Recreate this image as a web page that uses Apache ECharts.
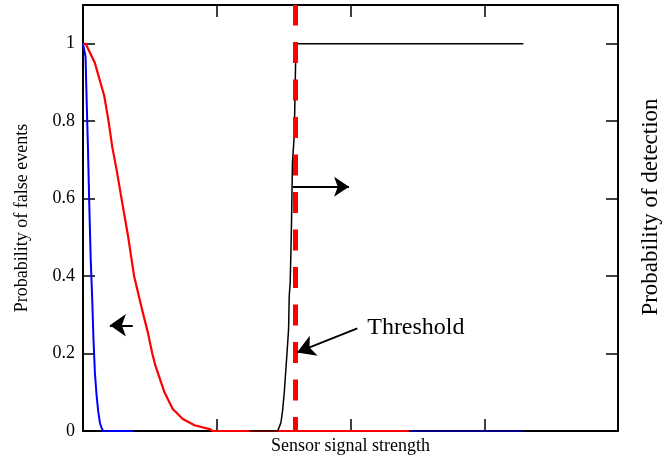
<!DOCTYPE html>
<html>
<head>
<meta charset="utf-8">
<script src="https://cdn.jsdelivr.net/npm/echarts@6/dist/echarts.min.js"></script>
<style>html,body{margin:0;padding:0;background:#fff;}#c{width:670px;height:460px;}</style>
</head>
<body>
<div id="c"></div>
<script>
// ---- data ----
const yTickValues = [0, 0.2, 0.4, 0.6, 0.8, 1];
const xTickValues = [0, 1, 2, 3, 4];

const blueX = [0, 0.01, 0.019, 0.026, 0.037, 0.048, 0.057, 0.069, 0.078, 0.089, 0.102, 0.114, 0.127, 0.139, 0.151, 0.375];
const blueY = [1, 1, 0.967, 0.87, 0.73, 0.57, 0.45, 0.34, 0.24, 0.15, 0.09, 0.05, 0.02, 0.008, 0, 0];
const blueTailX = [2.436, 3.29];
const blueTailY = [0, 0];

const redX = [0, 0.02, 0.089, 0.159, 0.191, 0.218, 0.251, 0.288, 0.337, 0.382, 0.437, 0.485, 0.518, 0.542, 0.609, 0.671, 0.746, 0.834, 0.946, 0.97, 2.436];
const redY = [1, 1, 0.95, 0.865, 0.8, 0.735, 0.675, 0.6, 0.503, 0.4, 0.32, 0.254, 0.2, 0.168, 0.1, 0.057, 0.031, 0.015, 0.005, 0, 0];

const blackX = [1.244, 1.455, 1.467, 1.48, 1.492, 1.505, 1.517, 1.529, 1.537, 1.542, 1.549, 1.555, 1.559, 1.566, 1.579, 1.584, 1.592, 3.292];
const blackY = [0, 0, 0.01, 0.022, 0.052, 0.1, 0.16, 0.22, 0.263, 0.349, 0.383, 0.469, 0.54, 0.692, 0.761, 0.843, 1, 1];

const threshold = 1.587;

// annotation arrows: [startX, startY, tipX, tipY]
const leftArrow = [0.372, 0.273, 0.201, 0.273];
const rightArrow = [1.57, 0.631, 1.989, 0.631];
const thresholdArrow = [2.051, 0.265, 1.6, 0.203];
const thresholdLabelPos = [2.125, 0.266];
const thresholdLabel = 'Threshold';

const xTitle = 'Sensor signal strength';
const yTitleLeft = 'Probability of false events';
const yTitleRight = 'Probability of detection';

// ---- chart ----
const FONT = '"Liberation Serif", "Times New Roman", serif';
const pairs = (xs, ys) => xs.map((x, i) => [x, ys[i]]);

const axisLineStyle = () => ({ show: true, onZero: false, lineStyle: { color: '#000', width: 2 } });
const tickStyle = () => ({ show: true, inside: true, length: 12, lineStyle: { color: '#000', width: 1.5 } });

function arrowLine(a, size) {
  return [{ coord: [a[0], a[1]], symbol: 'none' }, { coord: [a[2], a[3]], symbol: 'arrow', symbolSize: size }];
}

const chart = echarts.init(document.getElementById('c'), null, { renderer: 'canvas' });
chart.setOption({
  animation: false,
  backgroundColor: '#fff',
  grid: { left: 83, right: 50, top: 5, bottom: 28, containLabel: false },
  xAxis: [
    {
      type: 'value', position: 'bottom', min: xTickValues[0], max: xTickValues[xTickValues.length - 1], interval: 1,
      axisLine: axisLineStyle(), axisTick: tickStyle(),
      axisLabel: { show: false }, splitLine: { show: false },
      name: xTitle, nameLocation: 'middle', nameGap: 6,
      nameTextStyle: { fontFamily: FONT, fontSize: 18, color: '#000', verticalAlign: 'top' }
    },
    {
      type: 'value', position: 'top', min: xTickValues[0], max: xTickValues[xTickValues.length - 1], interval: 1,
      axisLine: axisLineStyle(), axisTick: tickStyle(),
      axisLabel: { show: false }, splitLine: { show: false }
    }
  ],
  yAxis: [
    {
      type: 'value', position: 'left', min: 0, max: 1.1, interval: 0.2,
      axisLine: axisLineStyle(), axisTick: tickStyle(), splitLine: { show: false },
      axisLabel: {
        show: true, margin: 8, fontFamily: FONT, fontSize: 18, color: '#000', showMaxLabel: false,
        formatter: v => (yTickValues.some(t => Math.abs(t - v) < 1e-9) ? String(Math.round(v * 10) / 10) : '')
      },
      name: yTitleLeft, nameLocation: 'middle', nameGap: 52,
      nameTextStyle: { fontFamily: FONT, fontSize: 18, color: '#000' }
    },
    {
      type: 'value', position: 'right', min: 0, max: 1.1, interval: 0.2,
      axisLine: axisLineStyle(), axisTick: tickStyle(), splitLine: { show: false },
      axisLabel: { show: false },
      name: yTitleRight, nameLocation: 'middle', nameGap: 21,
      nameTextStyle: { fontFamily: FONT, fontSize: 23, color: '#000', padding: [0, 0, 0, 22] }
    }
  ],
  series: [
    {
      type: 'line', data: pairs(blueX, blueY), showSymbol: false, symbol: 'none', silent: true,
      lineStyle: { color: '#0000ff', width: 2 }, z: 3
    },
    {
      type: 'line', data: pairs(blueTailX, blueTailY), showSymbol: false, symbol: 'none', silent: true,
      lineStyle: { color: '#000080', width: 2 }, z: 3
    },
    {
      type: 'line', data: pairs(redX, redY), showSymbol: false, symbol: 'none', silent: true,
      lineStyle: { color: '#ff0000', width: 2.2 }, z: 4
    },
    {
      type: 'line', data: pairs(blackX, blackY), showSymbol: false, symbol: 'none', silent: true,
      lineStyle: { color: '#000', width: 1.5 }, z: 4
    },
    {
      type: 'line', data: [], silent: true, z: 5,
      markLine: {
        silent: true, animation: false, symbol: 'none', label: { show: false },
        lineStyle: { color: '#ff0000', width: 5, type: [21, 16.5], dashOffset: 7, cap: 'butt' },
        emphasis: { disabled: true },
        data: [{ xAxis: threshold }]
      }
    },
    {
      type: 'line', data: [], silent: true, z: 6,
      markLine: {
        silent: true, animation: false, label: { show: false },
        lineStyle: { color: '#000', width: 2, type: 'solid' },
        emphasis: { disabled: true },
        data: [
          arrowLine(leftArrow, [17, 16]),
          arrowLine(rightArrow, [15, 15]),
          arrowLine(thresholdArrow, [16, 18])
        ]
      },
      markPoint: {
        silent: true, symbol: 'circle', symbolSize: 0,
        label: {
          show: true, position: 'inside', align: 'left', verticalAlign: 'middle',
          fontFamily: FONT, fontSize: 24, color: '#000', formatter: thresholdLabel
        },
        itemStyle: { color: 'transparent' },
        data: [{ coord: thresholdLabelPos }]
      }
    }
  ]
});
</script>
</body>
</html>
